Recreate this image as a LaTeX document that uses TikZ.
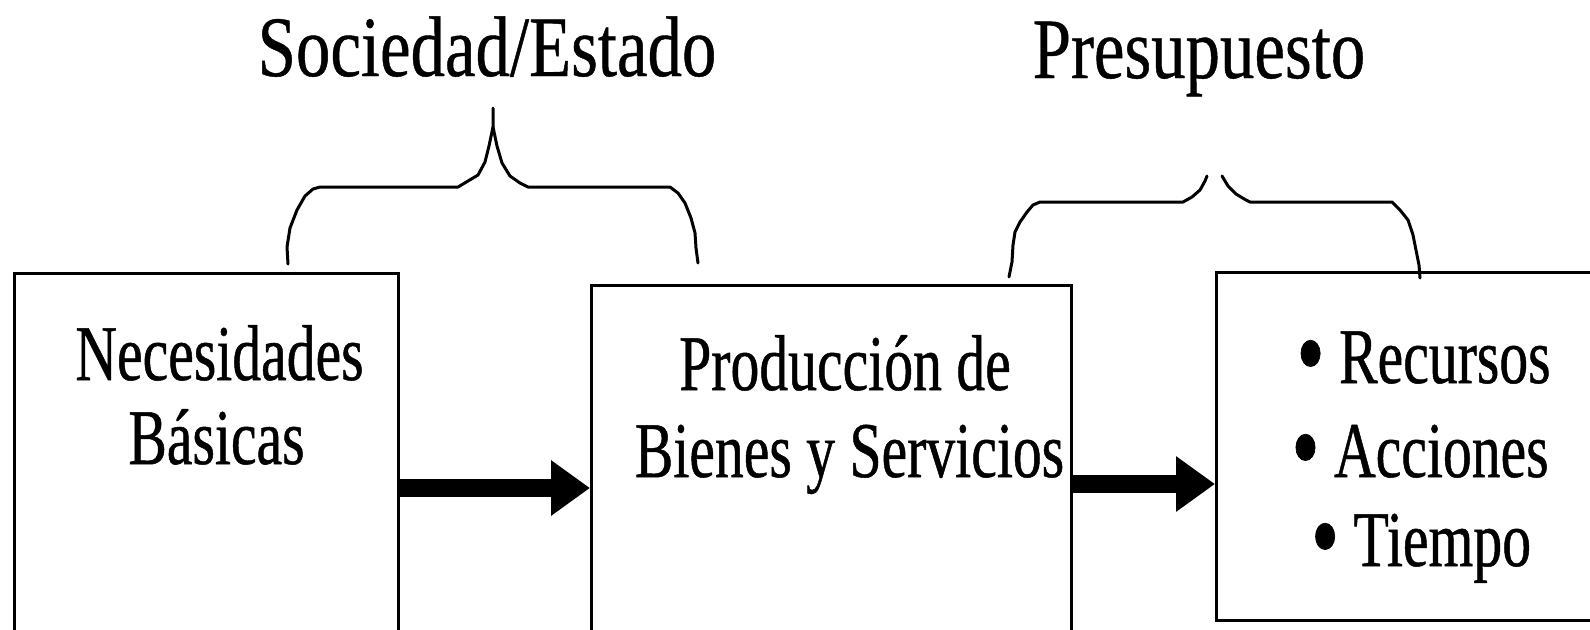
\documentclass[tikz,border=0pt]{standalone}
\usepackage{fontspec}
\setmainfont{Liberation Serif}
\newfontfamily\titlefont[FakeStretch=0.8,FakeBold=0.5]{Liberation Serif}
\newfontfamily\boxfont[FakeStretch=0.73,FakeBold=0.6]{Liberation Serif}
\usetikzlibrary{arrows.meta}
\newcommand{\bigbul}{\smash{\raisebox{-3.5pt}{\scalebox{1.4}{•}}}}
\begin{document}
\begin{tikzpicture}[x=0.5pt,y=-0.5pt,
  box/.style={draw, line width=1.6pt, inner sep=0pt, anchor=north west},
  fat/.style={line width=9pt, -{Triangle[length=19.5pt, width=26.5pt]}},
  brace/.style={line width=1.5pt, line join=round, line cap=round},
  ttl/.style={anchor=base, inner sep=0pt, font=\titlefont\fontsize{43}{50}\selectfont},
  txt/.style={anchor=base, inner sep=0pt, font=\boxfont\fontsize{39.5}{45}\selectfont}]
\useasboundingbox (0,0) rectangle (1590,629);
% boxes
\node[box, minimum width=192pt, minimum height=194.5pt] (b1) at (13,272) {};
\node[box, minimum width=240pt, minimum height=188.5pt] (b2) at (590,284) {};
\node[box, minimum width=197.5pt, minimum height=174pt] (b3) at (1215,271) {};
% titles
\node[ttl] (t1) at (487,76) {Sociedad/Estado};
\node[ttl] (t2) at (1199,78) {Presupuesto};
% box texts
\node[txt] (n1) at (219.5,380) {Necesidades};
\node[txt] (n2) at (216.5,464) {Básicas};
\node[txt] (p1) at (845,390) {Producción de};
\node[txt] (p2) at (849.5,477) {Bienes y Servicios};
\node[txt] (r1) at (1423.5,383) {\bigbul\ Recursos};
\node[txt] (r2) at (1420,477) {\bigbul\ Acciones};
\node[txt] (r3) at (1421,566) {\bigbul\ Tiempo};
% arrows
\coordinate (y1) at (0,488);
\coordinate (y2) at (0,484);
\draw[fat] (b1.east |- y1) -- (b2.west |- y1);
\draw[fat] (b2.east |- y2) -- (b3.west |- y2);
% brace 1
\draw[brace] (288,264) -- (287,247) -- (290,228) -- (297,210) -- (305,196) -- (313,189) -- (320,187)
  -- (458,187) -- (468,181) -- (478,175) -- (485,162) -- (489,146) -- (493,127) -- (493,108);
\draw[brace] (493,127) -- (497,146) -- (502,163) -- (510,176) -- (520,183) -- (528,187) -- (670,187)
  -- (678,193) -- (685,203) -- (691,218) -- (695,233) -- (696,248) -- (698,263);
% brace 2
\draw[brace] (1009,277) -- (1012,262) -- (1013,245) -- (1015,232) -- (1020,222) -- (1027,212) -- (1033,205)
  -- (1040,202) -- (1183,202) -- (1192,197) -- (1200,190) -- (1205,181) -- (1207,176);
\draw[brace] (1222,176) -- (1228,186) -- (1236,194) -- (1246,200) -- (1250,202) -- (1392,202)
  -- (1400,210) -- (1408,220) -- (1413,235) -- (1416,250) -- (1419,265) -- (1420,278);
\end{tikzpicture}
\end{document}
